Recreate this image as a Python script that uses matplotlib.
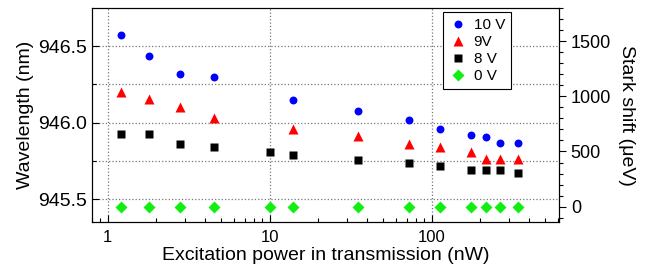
import matplotlib
matplotlib.use("Agg")
import matplotlib.pyplot as plt
from matplotlib.ticker import MultipleLocator, LogLocator, NullFormatter

plt.rcParams['font.family'] = ['Liberation Sans', 'DejaVu Sans']

# excitation power (nW)
power_all = [1.21, 1.8, 2.79, 4.51, 10.0, 13.9, 35.2, 72.7, 112.5, 175.5, 216, 265, 341]
power_no10 = [1.21, 1.8, 2.79, 4.51, 13.9, 35.2, 72.7, 112.5, 175.5, 216, 265, 341]

# wavelength (nm)
wl_10V = [946.57, 946.437, 946.317, 946.298, 946.148, 946.078, 946.019, 945.959,
          945.919, 945.908, 945.869, 945.869]
wl_9V = [946.198, 946.152, 946.102, 946.032, 945.96, 945.913, 945.861, 945.843,
         945.81, 945.761, 945.761, 945.761]
wl_8V = [945.928, 945.928, 945.859, 945.839, 945.809, 945.789, 945.758, 945.737,
         945.72, 945.69, 945.69, 945.69, 945.67]
wl_0V = [945.45] * 13

fig = plt.figure(figsize=(6.55, 2.71), dpi=100)
ax = fig.add_axes([92 / 655, 1 - 222 / 271, (559 - 92) / 655, (222 - 8) / 271])

ax.plot(power_no10, wl_10V, 'o', color='#0000ff', ms=5.7, mec='none', label='10 V')
ax.plot(power_no10, wl_9V, '^', color='#ff0000', ms=6.5, mec='none', label='9V')
ax.plot(power_all, wl_8V, 's', color='black', ms=5.2, mec='none', label='8 V')
ax.plot(power_all, wl_0V, 'D', color='#11ee11', ms=5.8, mec='none', label='0 V')

ax.set_xscale('log')
ax.set_xlim(0.80, 611)
ax.set_ylim(945.352, 946.748)
ax.set_xticks([1, 10, 100])
ax.set_xticklabels(['1', '10', '100'])
ax.xaxis.set_minor_locator(LogLocator(base=10, subs=range(2, 10), numticks=20))
ax.xaxis.set_minor_formatter(NullFormatter())
ax.set_yticks([945.5, 946.0, 946.5])
ax.yaxis.set_minor_locator(MultipleLocator(0.25))

ax.tick_params(axis='both', which='major', direction='in', length=5, width=0.8)
ax.tick_params(axis='y', which='major', labelsize=14)
ax.tick_params(axis='x', which='major', labelsize=12, pad=6)
ax.tick_params(axis='both', which='minor', direction='in', length=3, width=0.8)

ax.grid(True, which='major', axis='x', color='#777777', ls=':', lw=0.9)
ax.grid(True, which='both', axis='y', color='#777777', ls=':', lw=0.9)

ax.set_xlabel('Excitation power in transmission (nW)', fontsize=14, labelpad=1)
ax.set_ylabel('Wavelength (nm)', fontsize=14, labelpad=3)

ax2 = ax.twinx()
ax2.set_ylim(-139, 1800)
ax2.set_yticks([0, 500, 1000, 1500])
ax2.yaxis.set_minor_locator(MultipleLocator(100))
ax2.tick_params(axis='y', which='major', labelsize=13, direction='out', length=5, width=0.8)
ax2.tick_params(axis='y', which='minor', direction='out', length=3, width=0.8)
ax2.set_ylabel('Stark shift (\u03bceV)', fontsize=14, rotation=270, labelpad=17)

leg = ax.legend(loc='upper left', bbox_to_anchor=((443 - 92) / 467, 1 - (12 - 8) / 214),
                borderaxespad=0, fontsize=11, frameon=True, fancybox=False,
                edgecolor='black', framealpha=1, handletextpad=0.4, borderpad=0.4,
                labelspacing=0.2, handlelength=1.2)
leg.get_frame().set_linewidth(0.8)

fig.savefig('out.png', dpi=100)
